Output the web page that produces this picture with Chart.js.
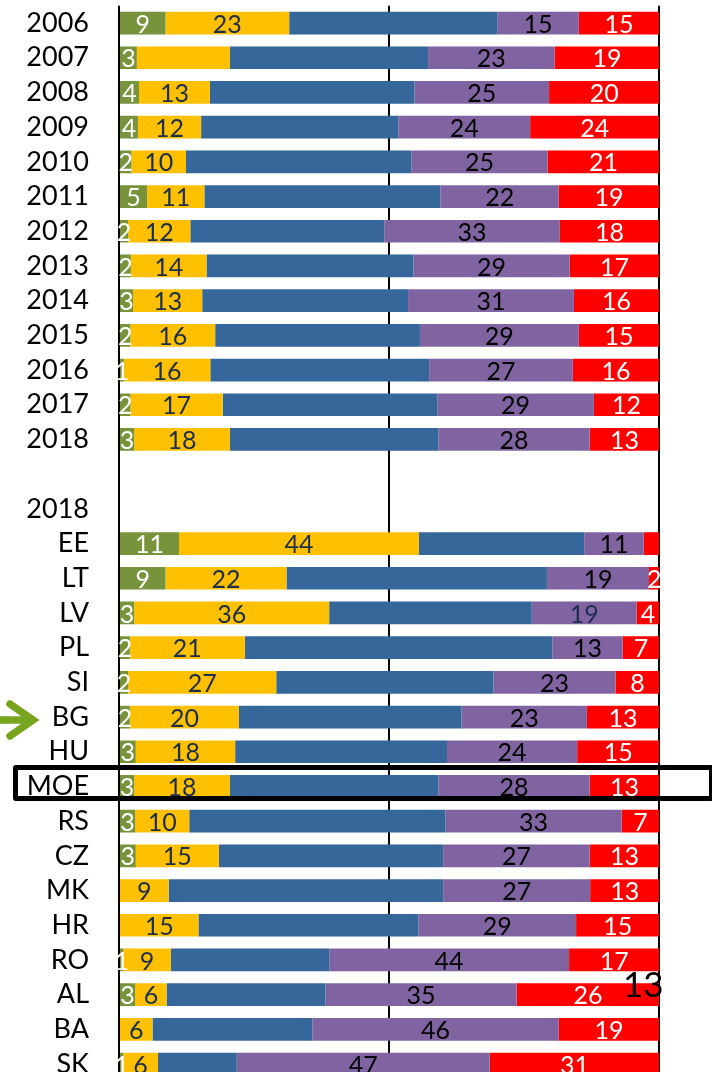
<!DOCTYPE html>
<html>
<head>
<meta charset="utf-8">
<script src="https://cdn.jsdelivr.net/npm/chart.js@4/dist/chart.umd.min.js"></script>
<style>
  html, body { margin: 0; padding: 0; background: #fff; overflow: hidden; width: 712px; height: 1072px; }
  #wrap { position: absolute; left: 0; top: 0; width: 712px; height: 1085px; }
  #slide { position: absolute; left: 623px; top: 966px; font-family: Lato, sans-serif; font-size: 35px; line-height: 35px; color: #000; }
  #box { position: absolute; left: 13px; top: 765px; width: 701px; height: 36px; border: 5px solid #000; border-radius: 3px; box-sizing: border-box; }
  #arrow { position: absolute; left: 0; top: 699px; }
</style>
</head>
<body>
<div id="wrap"><canvas id="c" width="712" height="1085"></canvas></div>
<svg id="arrow" width="40" height="42" viewBox="0 0 40 42">
  <line x1="0" y1="21" x2="30" y2="21" stroke="#77A51E" stroke-width="7.5"/>
  <polyline points="10,5 33,21 10,37" fill="none" stroke="#77A51E" stroke-width="7.5" stroke-linejoin="miter" stroke-linecap="round"/>
</svg>
<div id="box"></div>
<div id="slide">13</div>
<script>
const categories = ["2006","2007","2008","2009","2010","2011","2012","2013","2014","2015","2016","2017","2018","","2018","EE","LT","LV","PL","SI","BG","HU","MOE","RS","CZ","MK","HR","RO","AL","BA","SK"];
const green  = [8.6,3.3,3.7,3.5,2.3,5.2,1.7,2.2,2.6,2.1,0.9,2.1,2.8,null,null,11.1,8.6,2.8,2.0,1.7,2.0,3.1,2.8,3.0,3.1,null,null,0.8,3.0,null,0.8];
const yellow = [22.9,17.2,13.1,11.7,10.1,10.6,11.5,14.0,12.8,15.7,16.0,17.1,17.7,null,null,44.4,22.4,36.1,21.3,27.4,20.2,18.4,17.7,10.0,15.4,9.2,14.7,8.8,5.8,6.2,6.4];
const blue   = [38.5,36.7,37.9,36.5,41.7,43.7,35.9,38.3,38.1,37.9,40.5,39.7,38.6,null,null,30.6,48.2,37.5,56.9,40.2,41.2,39.2,38.6,47.4,41.5,50.8,40.7,29.3,29.4,29.6,14.6];
const purple = [15.1,23.4,24.9,24.4,25.2,21.9,32.5,28.9,30.7,29.4,26.6,29.0,28.0,null,null,11.0,18.9,19.4,13.0,22.6,23.2,24.1,28.0,32.6,27.1,27.2,29.2,44.4,35.4,45.6,46.8];
const red    = [14.9,19.4,20.4,23.9,20.7,18.6,18.4,16.6,15.8,14.9,16.0,12.1,12.9,null,null,2.9,1.9,4.2,6.8,8.1,13.4,15.2,12.9,7.0,12.9,12.8,15.4,16.7,26.4,18.6,31.4];
const xTicks = [0, 50, 100];
const hiddenLabels = ["2007|yellow", "EE|red"];
const navyLabels = ["LV|purple"];

const seriesDefs = [
  { key: "green",  data: green,  color: "#77933C", label: "#FFFFFF", show: true },
  { key: "yellow", data: yellow, color: "#FFC000", label: "#1C2E4E", show: true },
  { key: "blue",   data: blue,   color: "#35679A", label: "#FFFFFF", show: false },
  { key: "purple", data: purple, color: "#8064A2", label: "#000000", show: true },
  { key: "red",    data: red,    color: "#FF0000", label: "#FFFFFF", show: true }
];

const barLabels = {
  id: "barLabels",
  afterDatasetsDraw(chart) {
    const ctx = chart.ctx;
    ctx.save();
    ctx.font = "25px Lato, sans-serif";
    ctx.textAlign = "center";
    ctx.textBaseline = "middle";
    chart.data.datasets.forEach((ds, di) => {
      const def = seriesDefs[di];
      if (!def.show) return;
      const meta = chart.getDatasetMeta(di);
      meta.data.forEach((el, i) => {
        const v = ds.data[i];
        if (v == null) return;
        const txt = Math.round(v);
        if (txt === 0) return;
        const key = categories[i] + "|" + def.key;
        if (hiddenLabels.includes(key)) return;
        const c = el.getCenterPoint();
        ctx.fillStyle = navyLabels.includes(key) ? "#1C2E4E" : def.label;
        ctx.fillText(String(txt), c.x, c.y + 1.5);
      });
    });
    ctx.restore();
  }
};

function build() {
  new Chart(document.getElementById("c"), {
    type: "bar",
    data: {
      labels: categories,
      datasets: seriesDefs.map(s => ({
        label: s.key,
        data: s.data,
        backgroundColor: s.color,
        borderWidth: 0,
        barPercentage: 0.654,
        categoryPercentage: 1.0
      }))
    },
    options: {
      indexAxis: "y",
      responsive: false,
      animation: false,
      devicePixelRatio: 1,
      layout: { padding: { top: 5.7, bottom: 3.6, left: 0, right: 52.7 } },
      plugins: { legend: { display: false }, tooltip: { enabled: false }, title: { display: false } },
      scales: {
        x: {
          stacked: true,
          min: xTicks[0],
          max: xTicks[xTicks.length - 1],
          afterBuildTicks: (s) => { s.ticks = xTicks.map(v => ({ value: v })); },
          ticks: { display: false },
          grid: { color: "#000", lineWidth: 2, drawTicks: false, z: 0 },
          border: { display: false },
          afterFit: (s) => { s.height = 0; s.paddingLeft = 0; s.paddingRight = 0; }
        },
        y: {
          stacked: true,
          grid: { display: false, drawTicks: false },
          border: { display: false },
          ticks: { color: "#000", font: { family: "Lato", size: 27 }, padding: 30, autoSkip: false },
          afterFit: (s) => { s.width = 119; s.paddingTop = 0; s.paddingBottom = 0; }
        }
      }
    },
    plugins: [barLabels]
  });
}
if (document.fonts && document.fonts.load) {
  Promise.all([document.fonts.load("27px Lato"), document.fonts.load("25px Lato")]).then(build, build);
} else { build(); }
</script>
</body>
</html>
